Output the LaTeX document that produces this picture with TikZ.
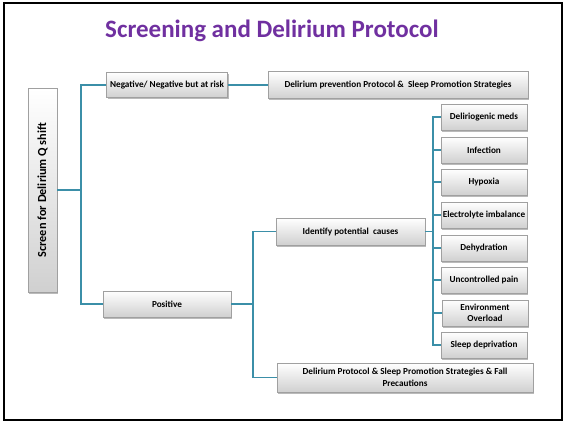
\documentclass[tikz,border=0pt]{standalone}
\usepackage{fontspec}
\setmainfont{Carlito}
\usetikzlibrary{shadows}
\definecolor{ttl}{HTML}{7030A0}
\definecolor{conn}{HTML}{3B8FA8}
\definecolor{bord}{HTML}{A0A0A0}
\definecolor{bot}{HTML}{D0D0D0}
\begin{document}
\begin{tikzpicture}[x=1pt,y=-1pt,
  box/.style={draw=bord, line width=0.4pt, top color=white, bottom color=bot,
    font=\bfseries\fontsize{9.2}{11.5}\selectfont, align=center, inner sep=0.5pt,
    drop shadow={shadow xshift=1.2pt, shadow yshift=-1.5pt, opacity=0.45, fill=black!60}},
  cause/.style={box, minimum width=86pt, minimum height=26pt},
  link/.style={draw=conn, line width=1.2pt}]
\useasboundingbox (0,0) rectangle (566,424);
\draw[line width=2pt] (3.5,3) rectangle (561.5,420);
\node[font=\bfseries\fontsize{25}{30}\selectfont, text=ttl] (title) at (272,31) {Screening and Delirium Protocol};

\node[box, rotate=90, minimum width=204pt, minimum height=29pt, font=\bfseries\fontsize{12.3}{14}\selectfont] (screen) at (42.5,190) {Screen for Delirium Q shift};
\node[box, minimum width=121pt, minimum height=25pt] (neg) at (167,85) {Negative/ Negative but at risk};
\node[box, minimum width=260pt, minimum height=27pt] (prev) at (398,85) {Delirium prevention Protocol \&\ \ Sleep Promotion Strategies};
\node[box, minimum width=128pt, minimum height=26pt] (pos) at (167,304) {Positive};
\node[box, minimum width=149pt, minimum height=27pt] (ident) at (350.5,231.5) {Identify potential\ \ causes};
\node[box, minimum width=256pt, minimum height=29pt] (final) at (405,377.5) {Delirium Protocol \& Sleep Promotion Strategies \& Fall\\Precautions};

\node[cause] (c1) at (484,117) {Deliriogenic meds};
\node[cause] (c2) at (484,150) {Infection};
\node[cause] (c3) at (484,182) {Hypoxia};
\node[cause] (c4) at (484,215) {Electrolyte imbalance};
\node[cause] (c5) at (484,248) {Dehydration};
\node[cause] (c6) at (484,280) {Uncontrolled pain};
\node[cause] (c7) at (485,313) {Environment\\Overload};
\node[cause] (c8) at (484,345) {Sleep deprivation};

\coordinate (t1) at (81,190);
\coordinate (t2) at (253,304);
\coordinate (t3) at (433,231.5);

\draw[link] (screen.south) -- (t1);
\draw[link] (neg.west) -| (t1) |- (pos.west);
\draw[link] (neg.east) -- (prev.west);
\draw[link] (pos.east) -- (t2);
\draw[link] (ident.west) -| (t2) |- (final.west);
\draw[link] (ident.east) -- (t3);
\draw[link] (c1.west) -| (t3) |- (c8.west);
\foreach \c in {c2,c3,c4,c5,c6,c7}
  \draw[link] (\c.west) -- (\c.west -| t3);
\end{tikzpicture}
\end{document}
